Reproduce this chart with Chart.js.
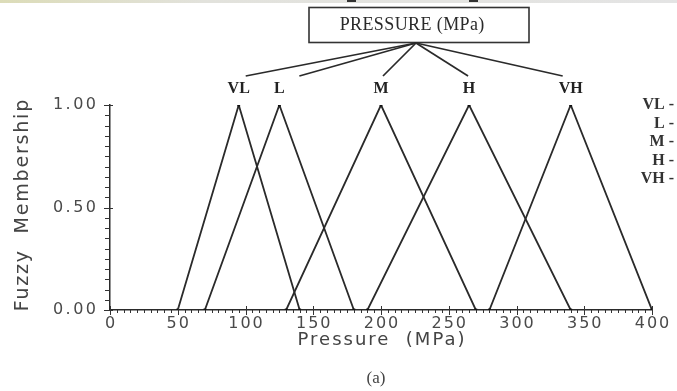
<!DOCTYPE html>
<html>
<head>
<meta charset="utf-8">
<script src="https://cdn.jsdelivr.net/npm/chart.js@4.4.1/dist/chart.umd.min.js"></script>
<style>
  html, body { margin: 0; padding: 0; background: #fff; }
  canvas { display: block; }
</style>
</head>
<body>
<canvas id="chart" width="677" height="391"></canvas>
<script>
// fuzzy sets for pressure (MPa): left foot, peak, right foot
const terms = ['VL', 'L', 'M', 'H', 'VH'];
const footLeft = [50, 70, 130, 190, 280];
const peak = [95, 125, 200, 265, 340];
const footRight = [140, 180, 270, 340, 400];
const membership = [0, 1, 0];
const xTicks = [0, 50, 100, 150, 200, 250, 300, 350, 400];
const yTicks = [0, 0.5, 1];

const datasets = terms.map(function(t, i) {
    const xs = [footLeft[i], peak[i], footRight[i]];
    return {
        label: t,
        data: xs.map(function(x, j) { return {x: x, y: membership[j]}; }),
        showLine: true,
        borderColor: '#2a2a2a',
        borderWidth: 1.8,
        pointStyle: 'rect',
        pointRadius: 2,
        pointBackgroundColor: '#111',
        pointBorderColor: '#111',
        pointBorderWidth: 0
    };
});

function spaced(ctx, text, x, y, spacing) {
    ctx.letterSpacing = spacing + 'px';
    const w = ctx.measureText(text).width - spacing;
    const align = ctx.textAlign;
    let start = x;
    if (align === 'center') start = x - w / 2;
    else if (align === 'right') start = x - w;
    ctx.textAlign = 'left';
    ctx.fillText(text, start, y);
    ctx.textAlign = align;
    ctx.letterSpacing = '0px';
}

const decor = {
    id: 'decor',
    afterDraw(chart) {
        const ctx = chart.ctx;
        const sx = chart.scales.x, sy = chart.scales.y;
        const a = chart.chartArea;
        ctx.save();

        // faint strip at the very top (crop of a page)
        const g = ctx.createLinearGradient(0, 0, 677, 0);
        g.addColorStop(0, '#dcdcb8');
        g.addColorStop(0.3, '#e2e2dc');
        g.addColorStop(1, '#e4e4e4');
        ctx.fillStyle = g;
        ctx.fillRect(0, 0, 677, 3);
        ctx.fillStyle = '#333';
        ctx.fillRect(347, 0, 9, 2);
        ctx.fillRect(469, 0, 9, 2);

        // box with title
        ctx.strokeStyle = '#333';
        ctx.lineWidth = 1.6;
        ctx.strokeRect(309, 7.5, 220, 35);
        ctx.fillStyle = '#2a2a2a';
        ctx.font = '18px "Liberation Serif"';
        ctx.textAlign = 'center';
        ctx.textBaseline = 'middle';
        spaced(ctx, 'PRESSURE (MPa)', 412, 25, 0.4);

        // connectors from the box to the term labels
        const ends = [7, 20, 2, -1, -8];
        ctx.lineWidth = 1.7;
        ctx.strokeStyle = '#2a2a2a';
        peak.forEach(function(p, i) {
            const px = sx.getPixelForValue(p);
            ctx.beginPath();
            ctx.moveTo(416, 43);
            ctx.lineTo(px + ends[i], 76);
            ctx.stroke();
        });

        // term labels above peaks
        ctx.font = 'bold 16px "Liberation Serif"';
        ctx.fillStyle = '#222';
        terms.forEach(function(t, i) {
            ctx.fillText(t, sx.getPixelForValue(peak[i]), a.top - 16);
        });

        // x ticks, minor every 5
        ctx.strokeStyle = '#333';
        ctx.lineWidth = 1;
        for (let v = sx.min; v <= sx.max; v += 5) {
            const px = Math.round(sx.getPixelForValue(v)) + 0.5;
            const major = v % 50 === 0;
            ctx.beginPath();
            ctx.moveTo(px, a.bottom - (major ? 4 : 0));
            ctx.lineTo(px, a.bottom + (major ? 5 : 3));
            ctx.stroke();
        }
        // y ticks, minor every 0.05
        for (let k = 0; k <= 20; k++) {
            const v = k * 0.05;
            const py = Math.round(sy.getPixelForValue(v)) + 0.5;
            const major = k % 10 === 0;
            ctx.beginPath();
            ctx.moveTo(a.left - (major ? 6 : 5), py);
            ctx.lineTo(a.left + (major ? 3 : 0), py);
            ctx.stroke();
        }

        // tick labels
        ctx.fillStyle = '#4a4a4a';
        ctx.font = '16px "DejaVu Sans"';
        ctx.textAlign = 'center';
        sx.ticks.forEach(function(t) {
            spaced(ctx, String(t.value), sx.getPixelForValue(t.value), a.bottom + 14, 2);
        });
        ctx.textAlign = 'right';
        sy.ticks.forEach(function(t) {
            spaced(ctx, t.value.toFixed(2), a.left - 14, sy.getPixelForValue(t.value), 2.5);
        });

        // axis titles
        ctx.fillStyle = '#444';
        ctx.font = '18px "DejaVu Sans"';
        ctx.textAlign = 'center';
        spaced(ctx, 'Pressure  (MPa)', (a.left + a.right) / 2, 340, 2);
        ctx.save();
        ctx.translate(23, (a.top + a.bottom) / 2 - 2);
        ctx.rotate(-Math.PI / 2);
        ctx.font = '19px "DejaVu Sans"';
        spaced(ctx, 'Fuzzy  Membership', 0, 0, 1.8);
        ctx.restore();

        // cut-off legend on the right
        ctx.fillStyle = '#333';
        ctx.font = 'bold 16px "Liberation Serif"';
        ctx.textAlign = 'right';
        terms.forEach(function(t, i) {
            ctx.fillText(t + ' -', 674, 105 + i * 18.5);
        });

        // caption
        ctx.font = '17px "Liberation Serif"';
        ctx.textAlign = 'center';
        ctx.fillStyle = '#444';
        ctx.fillText('(a)', 376, 379);

        ctx.restore();
    }
};

new Chart(document.getElementById('chart'), {
    type: 'scatter',
    data: { datasets: datasets },
    options: {
        responsive: false,
        animation: false,
        layout: { padding: { top: 105, right: 25, left: 0, bottom: 0 } },
        plugins: {
            legend: { display: false },
            tooltip: { enabled: false }
        },
        scales: {
            x: {
                type: 'linear',
                min: xTicks[0],
                max: xTicks[xTicks.length - 1],
                ticks: { display: false, stepSize: 50 },
                grid: { display: false },
                border: { display: true, color: '#2a2a2a', width: 1.5 },
                afterFit: function(s) { s.height = 81; },
                afterBuildTicks: function(s) { s.ticks = xTicks.map(function(v) { return {value: v}; }); }
            },
            y: {
                min: yTicks[0],
                max: yTicks[yTicks.length - 1],
                ticks: { display: false, stepSize: 0.5 },
                grid: { display: false },
                border: { display: true, color: '#2a2a2a', width: 1.5 },
                afterFit: function(s) { s.width = 110; },
                afterBuildTicks: function(s) { s.ticks = yTicks.map(function(v) { return {value: v}; }); }
            }
        }
    },
    plugins: [decor]
});
</script>
</body>
</html>
